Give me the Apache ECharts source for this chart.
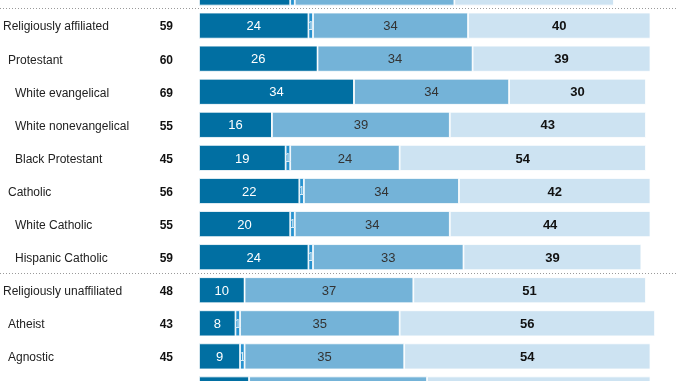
<!DOCTYPE html>
<html>
<head>
<meta charset="utf-8">
<script src="https://cdn.jsdelivr.net/npm/echarts@6/dist/echarts.min.js"></script>
<style>
html,body{margin:0;padding:0;background:#fff;overflow:hidden;width:678px;height:381px;}
#wrap{position:relative;width:678px;height:381px;overflow:hidden;}
#chart{position:absolute;left:0;top:-24px;width:678px;height:430px;}
</style>
</head>
<body>
<div id="wrap"><div id="chart"></div></div>
<script>
const categories = ['Total','Religiously affiliated','Protestant','White evangelical','White nonevangelical','Black Protestant','Catholic','White Catholic','Hispanic Catholic','Religiously unaffiliated','Atheist','Agnostic','Nothing in particular'];
const indentLevels = [0,0,1,2,2,2,1,2,2,0,1,1,1];
const totals = [56,59,60,69,55,45,56,55,59,48,43,45,50];
const darkVals = [20,24,26,34,16,19,22,20,24,10,8,9,11];
const smallVals = [1,1,0,0,0,1,1,1,1,0,1,1,0];
const midVals = [35,34,34,34,39,24,34,34,33,37,35,35,39];
const lightVals = [35,40,39,30,43,54,42,44,39,51,56,54,49];
const separatorsAfter = [0, 8];

const FONT = '"Liberation Sans", Arial, sans-serif';
const chart = echarts.init(document.getElementById('chart'), null, {renderer:'canvas'});

function seg(name, data, color, label) {
  return {
    name, type:'bar', stack:'s', data, barWidth:26,
    itemStyle:{color, borderColor:'#ffffff', borderWidth:0.8},
    label: Object.assign({show:true, position:'inside', fontFamily:FONT, offset:[0,1],
      formatter: p => p.value > 0 ? String(p.value) : ''}, label),
    emphasis:{disabled:true}, animation:false
  };
}

const lvlStyle = (pad) => ({fontFamily:FONT, fontSize:12, color:'#222', padding:[3,0,0,pad]});

chart.setOption({
  animation:false,
  grid:{left:199, width:456, top:0, height:430, containLabel:false},
  xAxis:{type:'value', min:0, max:100, show:false},
  yAxis:[
    {type:'category', data:categories, inverse:true, position:'left',
     axisLine:{show:false}, axisTick:{show:false}, splitLine:{show:false},
     axisLabel:{align:'left', margin:196, interval:0,
       formatter:(v,i)=>'{l'+indentLevels[i]+'|'+v+'}',
       rich:{l0:lvlStyle(0), l1:lvlStyle(5), l2:lvlStyle(12)}}},
    {type:'category', data:categories, inverse:true, position:'left',
     axisLine:{show:false}, axisTick:{show:false}, splitLine:{show:false},
     axisLabel:{align:'right', margin:26, interval:0,
       formatter:(v,i)=>'{n|'+totals[i]+'}',
       rich:{n:{fontFamily:FONT, fontSize:12, fontWeight:'bold', color:'#111', padding:[3,0,0,0]}}}}
  ],
  series:[
    seg('dark', darkVals, '#016fa2', {color:'#ffffff', fontSize:13}),
    seg('small', smallVals, '#2792cf', {color:'#d6ebf7', fontSize:12}),
    seg('mid', midVals, '#74b3d8', {color:'#333333', fontSize:13}),
    seg('light', lightVals, '#cde3f2', {color:'#111111', fontSize:13, fontWeight:'bold'})
  ]
});

const graphics = separatorsAfter.map(i => {
  const y1 = chart.convertToPixel({yAxisIndex:0}, categories[i]);
  const y2 = chart.convertToPixel({yAxisIndex:0}, categories[i+1]);
  const y = Math.round((y1+y2)/2) - 0.5;
  return {type:'line', shape:{x1:0, y1:y, x2:678, y2:y},
    style:{stroke:'#9a9a9a', lineWidth:1, lineDash:[1,2]}, silent:true};
});
chart.setOption({graphic:graphics});
</script>
</body>
</html>
